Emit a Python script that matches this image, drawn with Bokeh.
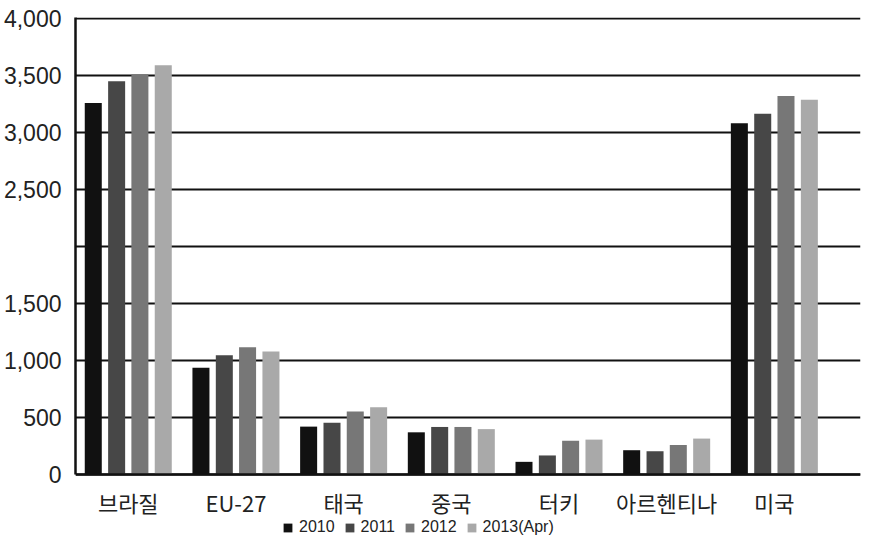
from bokeh.plotting import figure
from bokeh.models import FixedTicker, Legend, LegendItem, Range1d, NumeralTickFormatter
from bokeh.embed import file_html
from bokeh.resources import INLINE

categories = ["브라질", "EU-27", "태국", "중국", "터키", "아르헨티나", "미국"]
series_names = ["2010", "2011", "2012", "2013(Apr)"]
v2010 = [3258, 937, 420, 370, 111, 213, 3082]
v2011 = [3450, 1045, 455, 417, 167, 204, 3164]
v2012 = [3510, 1116, 553, 417, 296, 259, 3320]
v2013 = [3590, 1080, 590, 398, 306, 315, 3287]
y_ticks = [0, 500, 1000, 1500, 2000, 2500, 3000, 3500, 4000]

series_values = [v2010, v2011, v2012, v2013]
colors = ["#111111", "#474747", "#777777", "#a9a9a9"]
offsets = [-0.325, -0.108, 0.108, 0.325]

p = figure(width=862, height=536, output_backend="svg", toolbar_location=None,
           x_range=Range1d(-0.49, 6.80), y_range=Range1d(-543.9, 4008.8),
           min_border_left=75, min_border_right=2, min_border_top=17, min_border_bottom=0)
p.outline_line_color = None
p.background_fill_color = "white"
p.border_fill_color = "white"

renderers = []
for vals, col, off in zip(series_values, colors, offsets):
    xs = [i + off for i in range(len(categories))]
    r = p.vbar(x=xs, top=vals, width=0.158, fill_color=col, line_color=None)
    renderers.append(r)

# axes
p.xaxis.fixed_location = 0
p.xaxis.ticker = FixedTicker(ticks=list(range(len(categories))))
p.xaxis.major_label_overrides = {i: c for i, c in enumerate(categories)}
p.xaxis.major_label_text_font = "Noto Sans CJK KR"
p.xaxis.major_label_text_font_size = "22px"
p.xaxis.major_label_text_color = "#222222"
p.xaxis.major_label_standoff = 6
p.xaxis.axis_line_width = 2.5
p.xaxis.axis_line_color = "#111111"
p.xaxis.major_tick_line_color = None
p.xaxis.minor_tick_line_color = None

p.yaxis.bounds = (0, 4008.8)
p.yaxis.ticker = FixedTicker(ticks=y_ticks)
p.yaxis.formatter = NumeralTickFormatter(format="0,0")
p.yaxis.major_label_overrides = {2000: ""}
p.yaxis.major_label_text_font = "Liberation Sans"
p.yaxis.major_label_text_font_size = "23px"
p.yaxis.major_label_text_color = "#222222"
p.yaxis.major_label_standoff = 8
p.yaxis.axis_line_width = 2.5
p.yaxis.axis_line_color = "#111111"
p.yaxis.major_tick_line_color = None
p.yaxis.minor_tick_line_color = None

p.xgrid.grid_line_color = None
p.ygrid.grid_line_color = "#111111"
p.ygrid.grid_line_width = 2

legend = Legend(items=[LegendItem(label=n, renderers=[r]) for n, r in zip(series_names, renderers)],
                orientation="horizontal", location=(207, 0))
legend.padding = 0
legend.margin = 0
legend.spacing = 9
legend.glyph_width = 11
legend.glyph_height = 11
legend.label_standoff = 6
legend.label_height = 14
legend.label_text_font = "Liberation Sans"
legend.label_text_font_size = "16px"
legend.label_text_color = "#222222"
legend.background_fill_alpha = 0
legend.border_line_color = None
p.add_layout(legend, "center")

open("out.html", "w").write(file_html(p, INLINE))
